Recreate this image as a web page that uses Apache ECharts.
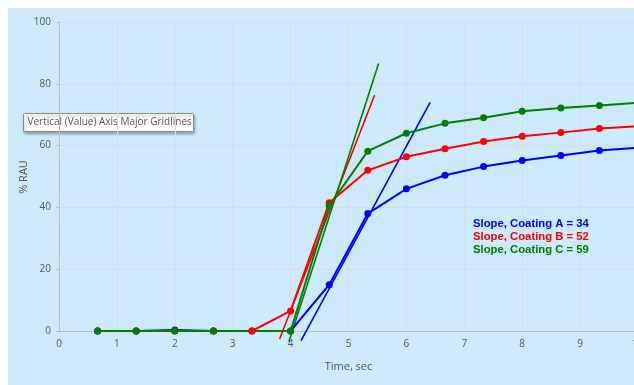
<!DOCTYPE html>
<html><head><meta charset="utf-8">
<script src="https://cdn.jsdelivr.net/npm/echarts@6/dist/echarts.min.js"></script>
<style>html,body{margin:0;padding:0;background:#fff;overflow:hidden;width:634px;height:385px}#c{width:660px;height:385px}</style>
</head><body><div id="c"></div>
<script>
const timeValues = [0.667, 1.333, 2, 2.667, 3.333, 4, 4.667, 5.333, 6, 6.667, 7.333, 8, 8.667, 9.333, 10];
const coatingA = [0, 0, 0.3, 0, 0, 0, 15, 38, 46, 50.4, 53.2, 55.2, 56.8, 58.4, 59.3];
const coatingB = [0, 0, 0, 0, 0, 6.5, 41.5, 52, 56.4, 59, 61.3, 63, 64.2, 65.5, 66.3];
const coatingC = [0, 0, 0, 0, null, 0, 40.5, 58.2, 64, 67.2, 69, 71.1, 72.2, 73, 73.9];
const slopeA = [[4.18, -3.1], [6.41, 74]];
const slopeB = [[3.81, -2.6], [5.45, 76.3]];
const slopeC = [[3.97, -3.5], [5.52, 86.6]];
const slopeLabels = ['Slope, Coating A = 34', 'Slope, Coating B = 52', 'Slope, Coating C = 59'];
const xTicks = [0,1,2,3,4,5,6,7,8,9,10];
const yTicks = [0,20,40,60,80,100];
const yTitle = '% RAU';

const colA = '#0000FF', colB = '#FF0000', colC = '#008000';
const pair = (ys) => timeValues.map((t, i) => [t, ys[i]]);
const chart = echarts.init(document.getElementById('c'));
const fontF = '"Open Sans", "Noto Sans", sans-serif';
const dataSeries = (name, ys, c) => ({
  name, type: 'line', data: pair(ys), symbol: 'circle', symbolSize: 7, connectNulls: true,
  lineStyle: {color: c, width: 2}, itemStyle: {color: c}, z: 3
});
const slopeSeries = (name, d, c) => ({
  name, type: 'line', data: d, symbol: 'none', clip: false,
  lineStyle: {color: c, width: 1.6}, z: 2
});
chart.setOption({
  animation: false,
  graphic: [
    {type: 'rect', left: 8, top: 8, shape: {width: 652, height: 377}, style: {fill: '#CCEAFB'}, z: -10, silent: true},
    {type: 'text', x: 24, y: 177, rotation: Math.PI / 2, z: 50,
     style: {text: yTitle, fill: '#595959', font: '11px "Open Sans", "Noto Sans", sans-serif', align: 'center', verticalAlign: 'middle'}},
    {type: 'group', left: 23, top: 113, z: 100, children: [
      {type: 'rect', shape: {x: 0, y: 0, width: 170, height: 18, r: 1},
       style: {fill: '#ffffff', stroke: '#8a8a8a', lineWidth: 1, shadowBlur: 3, shadowOffsetX: 1, shadowOffsetY: 2, shadowColor: 'rgba(0,0,0,0.3)'}},
      {type: 'text', x: 4, y: 9, style: {text: 'Vertical (Value) Axis Major Gridlines', fill: '#555', font: '10px "Open Sans", "Noto Sans", sans-serif', verticalAlign: 'middle'}}
    ]},
    {type: 'text', left: 473, top: 218, z: 50, style: {text: slopeLabels[0], fill: colA, font: 'bold 11.3px "Liberation Sans", Arial, sans-serif'}},
    {type: 'text', left: 473, top: 231, z: 50, style: {text: slopeLabels[1], fill: colB, font: 'bold 11.3px "Liberation Sans", Arial, sans-serif'}},
    {type: 'text', left: 473, top: 244, z: 50, style: {text: slopeLabels[2], fill: colC, font: 'bold 11.3px "Liberation Sans", Arial, sans-serif'}}
  ],
  grid: {left: 59, right: 22, top: 22, bottom: 54, containLabel: false},
  xAxis: {
    type: 'value', min: xTicks[0], max: xTicks[xTicks.length-1], interval: 1,
    name: 'Time, sec', nameLocation: 'middle', nameGap: 30,
    nameTextStyle: {color: '#595959', fontSize: 11, fontFamily: fontF},
    axisLine: {show: true, onZero: false, lineStyle: {color: '#bfbfbf'}},
    axisTick: {show: false},
    axisLabel: {color: '#595959', fontSize: 10, fontFamily: fontF, margin: 8},
    splitLine: {show: true, lineStyle: {color: '#d9dde0', width: 1}}
  },
  yAxis: {
    type: 'value', min: yTicks[0], max: yTicks[yTicks.length-1], interval: 20,
    axisLine: {show: true, lineStyle: {color: '#bfbfbf'}},
    axisTick: {show: true, length: 3, lineStyle: {color: '#bfbfbf'}},
    axisLabel: {color: '#595959', fontSize: 10, fontFamily: fontF, margin: 8},
    splitLine: {show: true, lineStyle: {color: '#d9dde0', width: 1}}
  },
  series: [
    slopeSeries('Slope A', slopeA, colA),
    slopeSeries('Slope B', slopeB, colB),
    slopeSeries('Slope C', slopeC, colC),
    dataSeries('Coating A', coatingA, colA),
    dataSeries('Coating B', coatingB, colB),
    dataSeries('Coating C', coatingC, colC)
  ]
});
</script></body></html>
